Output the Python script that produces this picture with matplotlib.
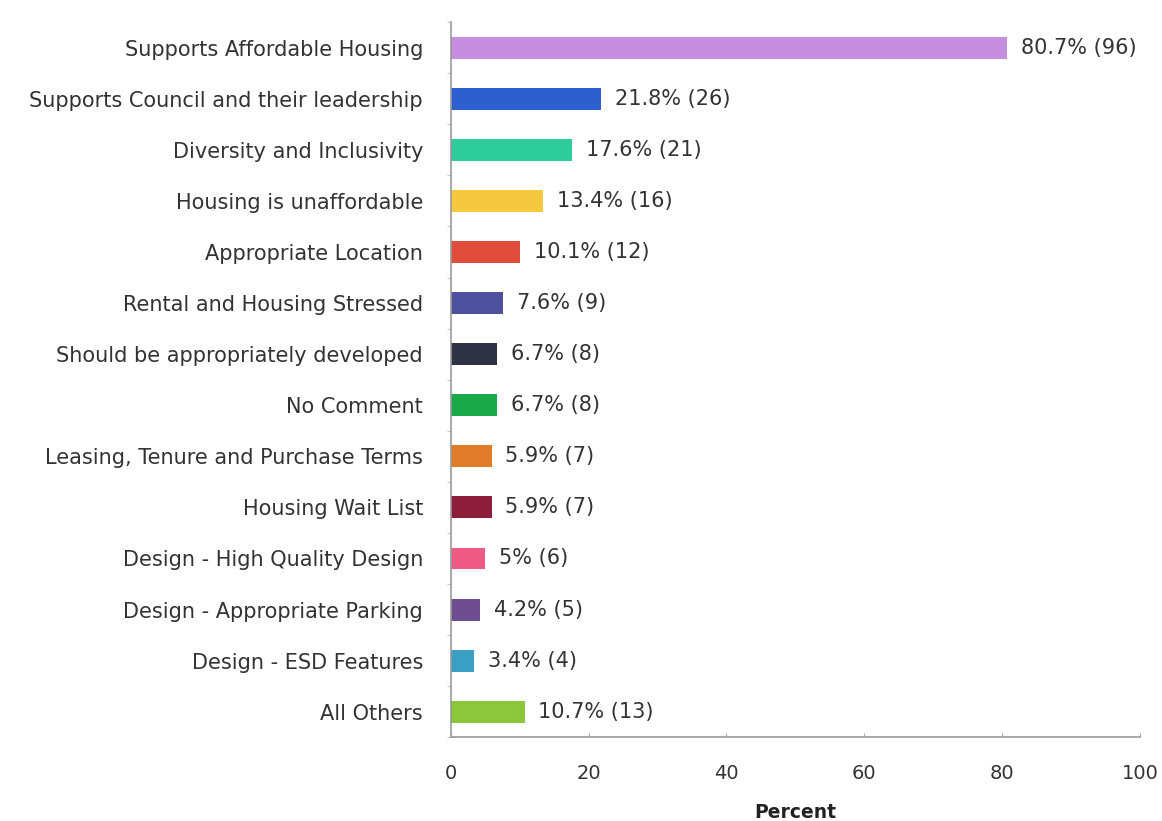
import matplotlib
matplotlib.use("Agg")
import matplotlib.pyplot as plt

categories = [
    "Supports Affordable Housing",
    "Supports Council and their leadership",
    "Diversity and Inclusivity",
    "Housing is unaffordable",
    "Appropriate Location",
    "Rental and Housing Stressed",
    "Should be appropriately developed",
    "No Comment",
    "Leasing, Tenure and Purchase Terms",
    "Housing Wait List",
    "Design - High Quality Design",
    "Design - Appropriate Parking",
    "Design - ESD Features",
    "All Others",
]
percents = [80.7, 21.8, 17.6, 13.4, 10.1, 7.6, 6.7, 6.7, 5.9, 5.9, 5, 4.2, 3.4, 10.7]
counts = [96, 26, 21, 16, 12, 9, 8, 8, 7, 7, 6, 5, 4, 13]
colors = ["#c48de0", "#2f5fcf", "#2ecc9a", "#f5c842", "#e04c3c", "#4f4f9f",
          "#2e3344", "#19a84a", "#e07b2a", "#8c1d3b", "#ef5b84", "#6e4d90",
          "#3a9fc2", "#8cc63a"]

plt.rcParams['font.family'] = ['DejaVu Sans']

fig = plt.figure(figsize=(11.62, 8.21), dpi=100)
ax = fig.add_axes([0.388, 0.102, 0.593, 0.871])

y = list(range(len(categories)))
ax.barh(y, percents, height=0.43, color=colors)

for yi, p, c in zip(y, percents, counts):
    ax.annotate(f"{p:g}% ({c})", (p, yi), xytext=(10, 0), textcoords="offset points",
                va="center", ha="left", fontsize=15, color="#333333")

ax.set_yticks(y)
ax.set_yticklabels(categories, fontsize=15, color="#333333")
ax.set_ylim(len(categories) - 0.5, -0.5)
ax.set_xlim(0, 100)
ax.set_xticks([0, 20, 40, 60, 80, 100])
ax.tick_params(axis="x", labelsize=14, labelcolor="#333333", length=3,
               direction="in", pad=19, color="#aaaaaa")
ax.tick_params(axis="y", length=0, pad=20)
ax.set_yticks([i + 0.5 for i in range(-1, len(categories))], minor=True)
ax.tick_params(axis="y", which="minor", length=3, direction="out", color="#bbbbbb")
ax.set_xlabel("Percent", fontsize=13.5, fontweight="bold", labelpad=15, color="#222222")

for s in ["top", "right"]:
    ax.spines[s].set_visible(False)
for s in ["left", "bottom"]:
    ax.spines[s].set_color("#999999")
    ax.spines[s].set_linewidth(1.2)

fig.savefig("out.png", dpi=100, facecolor="white")
